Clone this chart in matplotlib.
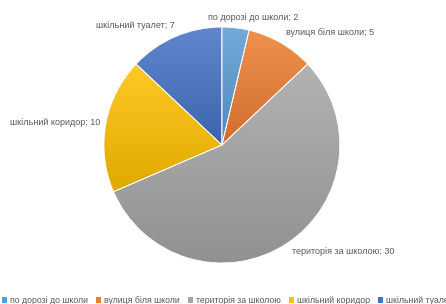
import matplotlib.pyplot as plt
import numpy as np
from matplotlib.colors import LinearSegmentedColormap, to_rgb
from matplotlib.patches import Patch

plt.rcParams['font.family'] = ['Liberation Sans', 'DejaVu Sans']

# дані
kategorii = ['по дорозі до школи', 'вулиця біля школи', 'територія за школою',
             'шкільний коридор', 'шкільний туалет']
znachennia = [2, 5, 30, 10, 7]
kolory = ['#5B9BD5', '#ED7D31', '#A5A5A5', '#FFC000', '#4472C4']

# зсув підписів відносно середини сектора (в радіусах)
pidpys_zsuv = [(0.14, -0.01), (0.365, 0.0), (0.42, 0.02), (-0.33, 0.0), (-0.30, 0.0)]

fig = plt.figure(figsize=(4.46, 3.04), dpi=100)
ax = fig.add_axes([0.233, 0.135, 0.529, 0.776])

wedges, _ = ax.pie(znachennia, colors=kolory, startangle=90, counterclock=False,
                   radius=1, wedgeprops=dict(edgecolor='white', linewidth=0.6))

# градієнт як в Excel: світліше зверху, темніше знизу кожного сектора
grad = np.linspace(1, 0, 100).reshape(-1, 1)
for w, c in zip(wedges, kolory):
    rgb = np.array(to_rgb(c))
    svitlyi = rgb + (1 - rgb) * 0.15
    temnyi = rgb * 0.88
    cmap = LinearSegmentedColormap.from_list('g', [temnyi, svitlyi])
    v = w.get_path().vertices
    img = ax.imshow(grad, cmap=cmap, aspect='auto', zorder=1,
                    extent=[v[:, 0].min(), v[:, 0].max(), v[:, 1].min(), v[:, 1].max()])
    img.set_clip_path(w)
    w.set_facecolor('none')
    w.set_zorder(2)

ax.set_xlim(-1, 1)
ax.set_ylim(-1, 1)
ax.set_aspect('equal')
ax.axis('off')

for w, naz, v, (dx, dy) in zip(wedges, kategorii, znachennia, pidpys_zsuv):
    kut = np.deg2rad((w.theta1 + w.theta2) / 2)
    x = 1.1 * np.cos(kut) + dx
    y = 1.1 * np.sin(kut) + dy
    ax.text(x, y, f'{naz}; {v}', ha='center', va='center', fontsize=6.5,
            color='#595959', clip_on=False)

handles = [Patch(facecolor=c) for c in kolory]
fig.legend(handles, kategorii, loc='lower left', bbox_to_anchor=(0.0, -0.01),
           ncol=5, fontsize=6.3, frameon=False, handlelength=0.6, handleheight=0.6,
           handletextpad=0.3, columnspacing=0.95, labelcolor='#595959',
           borderaxespad=0.1, borderpad=0.1)

fig.savefig('out.png', dpi=100)
